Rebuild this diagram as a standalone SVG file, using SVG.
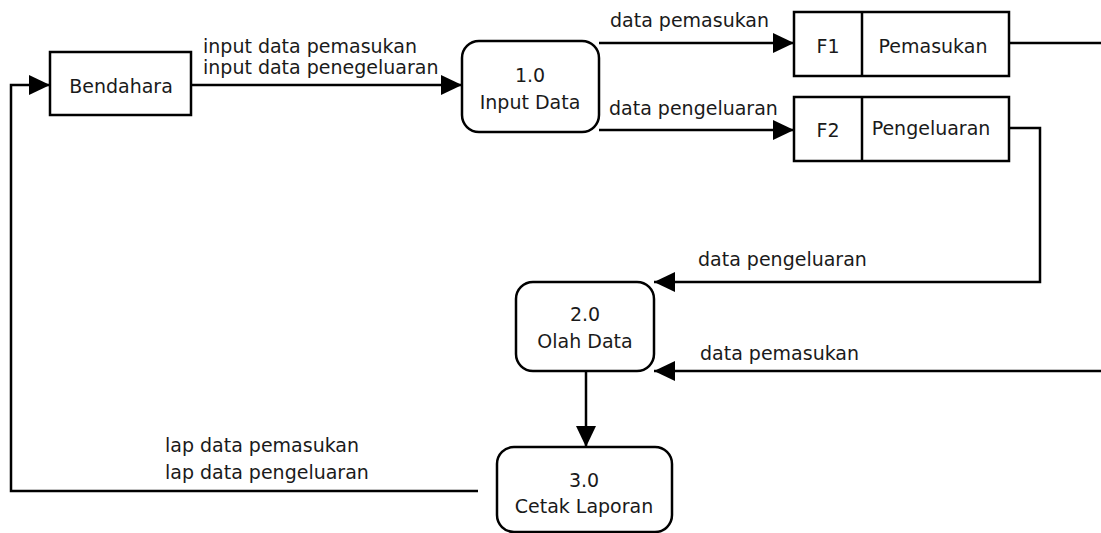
<svg xmlns="http://www.w3.org/2000/svg" width="1101" height="533" viewBox="0 0 1101 533">
<style>
  .box{fill:#fff;stroke:#000;stroke-width:2.5}
  .ln{fill:none;stroke:#000;stroke-width:2.5}
  .t{font-family:"DejaVu Sans",Verdana,sans-serif;font-size:19px;fill:#1a1a1a}
  .m{text-anchor:middle}
</style>
<defs>
  <marker id="ah" markerUnits="userSpaceOnUse" markerWidth="22" markerHeight="22" refX="21" refY="10" orient="auto">
    <path d="M0,0 L21,10 L0,20 z" fill="#000"/>
  </marker>
</defs>
<rect width="1101" height="533" fill="#fff"/>
<g id="connectors">
  <path class="ln" d="M191,85 H462" marker-end="url(#ah)"/>
  <path class="ln" d="M599,43 H794" marker-end="url(#ah)"/>
  <path class="ln" d="M599,130 H794" marker-end="url(#ah)"/>
  <path class="ln" d="M1009,43 H1112 V371 H654" marker-end="url(#ah)"/>
  <path class="ln" d="M1009,128 H1040 V282 H654" marker-end="url(#ah)"/>
  <path class="ln" d="M586,371 V447" marker-end="url(#ah)"/>
  <path class="ln" d="M478,491 H11 V85 H50" marker-end="url(#ah)"/>
  <text class="t" x="203" y="53">input data pemasukan</text>
  <text class="t" x="203" y="74">input data penegeluaran</text>
  <text class="t" x="610" y="27">data pemasukan</text>
  <text class="t" x="609" y="115">data pengeluaran</text>
  <text class="t" x="698" y="266">data pengeluaran</text>
  <text class="t" x="700" y="360">data pemasukan</text>
  <text class="t" x="165" y="452">lap data pemasukan</text>
  <text class="t" x="165" y="479">lap data pengeluaran</text>
</g>
<g id="bendahara">
  <rect class="box" x="50" y="52" width="141" height="63"/>
  <text class="t m" x="121" y="93">Bendahara</text>
</g>
<g id="p1">
  <rect class="box" x="462" y="41" width="137" height="91" rx="17"/>
  <text class="t m" x="530" y="82">1.0</text>
  <text class="t m" x="530" y="109">Input Data</text>
</g>
<g id="f1">
  <rect class="box" x="794" y="12" width="215" height="64"/>
  <line class="ln" x1="862" y1="12" x2="862" y2="76"/>
  <text class="t m" x="828" y="53">F1</text>
  <text class="t m" x="933" y="53">Pemasukan</text>
</g>
<g id="f2">
  <rect class="box" x="794" y="97" width="215" height="64"/>
  <line class="ln" x1="862" y1="97" x2="862" y2="161"/>
  <text class="t m" x="828" y="137">F2</text>
  <text class="t m" x="931" y="135">Pengeluaran</text>
</g>
<g id="p2">
  <rect class="box" x="516" y="282" width="138" height="89" rx="17"/>
  <text class="t m" x="585" y="321">2.0</text>
  <text class="t m" x="585" y="348">Olah Data</text>
</g>
<g id="p3">
  <rect class="box" x="497" y="447" width="175" height="85" rx="17"/>
  <text class="t m" x="584" y="487">3.0</text>
  <text class="t m" x="584" y="513">Cetak Laporan</text>
</g>
</svg>
